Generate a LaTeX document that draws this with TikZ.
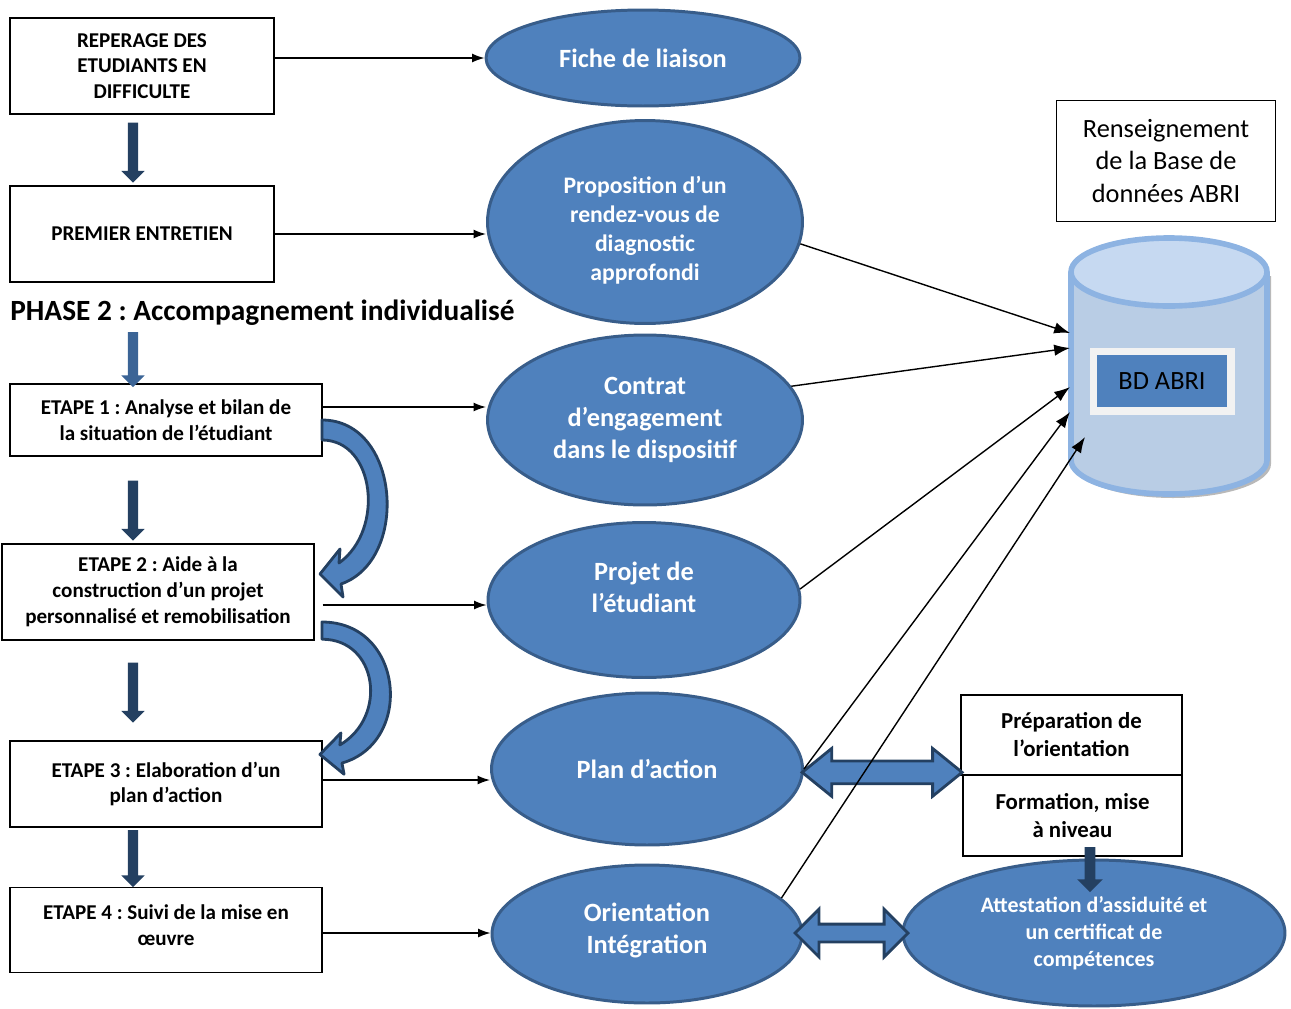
\documentclass[tikz,border=0pt]{standalone}
\usepackage{fontspec}
\setmainfont{Carlito}
\usepackage{tikz}
\usetikzlibrary{arrows.meta, positioning, calc, shapes.geometric, shapes.arrows, shadows}
\definecolor{MainBlue}{RGB}{79,129,189}
\definecolor{EdgeBlue}{RGB}{56,93,138}
\definecolor{DarkBlue}{RGB}{36,64,97}
\definecolor{MidBlue}{RGB}{59,100,150}
\definecolor{DbEdge}{RGB}{141,179,226}
\definecolor{DbBody}{RGB}{185,205,229}
\definecolor{DbTop}{RGB}{198,217,241}
\definecolor{FrameGrey}{RGB}{242,242,242}
\tikzset{
  >=latex,
  % boites rectangulaires
  box/.style={draw,line width=0.8pt,align=center,inner sep=2pt,font=\bfseries\fontsize{12}{14.7}\selectfont},
  % bulles bleues
  bubble/.style={ellipse,draw=EdgeBlue,line width=1.7pt,fill=MainBlue,text=white,align=center,inner sep=0pt,font=\bfseries\fontsize{15}{18.2}\selectfont},
  % fleches
  connect arrow/.style={-{Latex[length=7pt,width=5pt]},line width=0.8pt},
  db arrow/.style={-{Latex[length=9pt,width=6.5pt]},line width=0.8pt},
  down arrow/.style={single arrow,shape border rotate=270,fill=DarkBlue,inner sep=0.095cm,single arrow head extend=0.13cm,single arrow tip angle=90},
  both arrow/.style={double arrow,draw=DarkBlue,fill=MainBlue,line width=1.6pt},
  bend arrow/.style={draw=DarkBlue,fill=MainBlue,line width=1.6pt,line join=round}
}
\begin{document}
\frenchspacing
\begin{tikzpicture}[x=0.02cm,y=-0.02cm]
  \useasboundingbox (0,0) rectangle (1291,1008);
  % colonne de gauche
  \node[box,minimum width=5.28cm,minimum height=1.92cm] (reperage) at (142,66) {REPERAGE DES\\ETUDIANTS EN\\DIFFICULTE};
  \node[box,minimum width=5.28cm,minimum height=1.92cm] (entretien) at (142,234) {PREMIER ENTRETIEN};
  \node[anchor=west,inner sep=0pt,font=\bfseries\fontsize{16.7}{20}\selectfont] (phase) at (10,313) {PHASE 2 : Accompagnement individualisé};
  \node[box,minimum width=6.24cm,minimum height=1.44cm] (etape1) at (166,420) {ETAPE 1 : Analyse et bilan de\\la situation de l’étudiant};
  \node[box,minimum width=6.24cm,minimum height=1.92cm] (etape2) at (158,592) {ETAPE 2 : Aide à la\\construction d’un projet\\personnalisé et remobilisation};
  \node[box,minimum width=6.24cm,minimum height=1.72cm] (etape3) at (166,784) {ETAPE 3 : Elaboration d’un\\plan d’action};
  \node[box,minimum width=6.24cm,minimum height=1.7cm] (etape4) at (166,930) {ETAPE 4 : Suivi de la mise en\\œuvre\rule[-6pt]{0pt}{0pt}};
  \node[down arrow,minimum height=1.2cm] (a1) at (133,150) {};
  \node[down arrow,minimum height=1.1cm,fill=MidBlue] (a2) at (133,357) {};
  \node[down arrow,minimum height=1.2cm] (a3) at (133,508) {};
  \node[down arrow,minimum height=1.2cm] (a4) at (133,690) {};
  \node[down arrow,minimum height=1.14cm] (a5) at (133,856) {};
  % bulles
  \node[bubble,minimum width=6.28cm,minimum height=1.92cm] (fiche) at (643,58) {Fiche de liaison};
  \node[bubble,minimum width=6.3cm,minimum height=4.06cm,font=\bfseries\fontsize{13.5}{16.4}\selectfont] (prop) at (645,222) {\rule{0pt}{19pt}Proposition d’un\\rendez-vous de\\diagnostic\\approfondi};
  \node[bubble,minimum width=6.3cm,minimum height=3.4cm] (contrat) at (645,420) {Contrat\\d’engagement\\dans le dispositif};
  \node[bubble,minimum width=6.24cm,minimum height=3.1cm] (projet) at (644,600) {Projet de\\l’étudiant\rule[-15pt]{0pt}{0pt}};
  \node[bubble,minimum width=6.22cm,minimum height=3.04cm] (plan) at (647,769) {Plan d’action};
  \node[bubble,minimum width=6.2cm,minimum height=2.76cm] (orient) at (647,934) {Orientation\\Intégration\rule[-7pt]{0pt}{0pt}};
  \node[bubble,minimum width=7.64cm,minimum height=2.92cm,font=\bfseries\fontsize{12.5}{15.3}\selectfont] (attest) at (1094,933) {Attestation d’assiduité et\\un certificat de\\compétences};
  % base de donnees
  \node[draw,line width=0.8pt,minimum width=4.38cm,minimum height=2.42cm,align=center,font=\fontsize{15}{18.6}\selectfont] (rens) at (1166,161) {Renseignement\\de la Base de\\données ABRI};
  \fill[gray!55,shift={(4,4)}] (1071,272) -- (1071,460) arc[start angle=180,end angle=0,x radius=98,y radius=34] -- (1267,272) -- cycle;
  \fill[DbBody] (1071,272) -- (1071,460) arc[start angle=180,end angle=0,x radius=98,y radius=34] -- (1267,272) -- cycle;
  \draw[DbEdge,line width=3.2pt] (1071,272) -- (1071,460) arc[start angle=180,end angle=0,x radius=98,y radius=34] -- (1267,272);
  \filldraw[fill=DbTop,draw=DbEdge,line width=3.2pt] (1169,272) ellipse[x radius=98,y radius=34];
  \coordinate (dbleft) at (1068,366);
  \node[draw=FrameGrey,line width=4pt,fill=MainBlue,minimum width=2.76cm,minimum height=1.2cm,font=\fontsize{15}{18}\selectfont,drop shadow={shadow xshift=2pt,shadow yshift=-2pt,opacity=.6,fill=gray}] (bd) at (1162,381) {BD ABRI};
  \node[box,minimum width=4.42cm,minimum height=1.6cm,font=\bfseries\fontsize{13}{15.9}\selectfont] (prep) at (1071.5,735) {Préparation de\\l’orientation};
  \node[box,minimum width=4.38cm,minimum height=1.62cm,font=\bfseries\fontsize{13}{15.9}\selectfont] (form) at (1072.5,815.5) {Formation, mise\\à niveau};
  \node[down arrow,minimum height=0.9cm,inner sep=0.1cm,single arrow head extend=0.15cm] (a6) at (1090,867) {};
  % fleches horizontales
  \coordinate (e1out) at ($(etape1.east)+(0,-13)$);
  \coordinate (e2out) at ($(etape2.east)+(8,13)$);
  \coordinate (e3out) at ($(etape3.east)+(0,-4)$);
  \coordinate (e4out) at ($(etape4.east)+(0,3)$);
  \draw[connect arrow] (reperage.east |- fiche) -- (fiche.west);
  \draw[connect arrow] (entretien.east) -- (entretien.east -| prop.west);
  \draw[connect arrow] (e1out) -- (e1out -| contrat.west);
  \draw[connect arrow] (e2out) -- (e2out -| projet.west);
  \draw[connect arrow] (e3out) -- (e3out -| plan.west);
  \draw[connect arrow] (e4out) -- (e4out -| orient.west);
  % fleches courbes
  \begin{scope}[shift={(322,420)}]
    \draw[bend arrow] (0,0) .. controls (78,0) and (88,140) .. (19,164) -- (21,177) -- (-2,154) -- (18,129) -- (17,143) .. controls (63,110) and (53,20) .. (0,20) -- cycle;
  \end{scope}
  \begin{scope}[shift={(322,622)},xscale=1.05,yscale=0.86]
    \draw[bend arrow] (0,0) .. controls (78,0) and (88,140) .. (19,164) -- (21,177) -- (-2,154) -- (18,129) -- (17,143) .. controls (63,110) and (53,20) .. (0,20) -- cycle;
  \end{scope}
  % doubles fleches
  \node[both arrow,minimum height=3.2cm,inner sep=0.2cm,double arrow head extend=0.25cm,double arrow tip angle=78] (pa) at ($(plan.east)!0.5!(prep.south west)$) {};
  \node[both arrow,minimum height=2.26cm,inner sep=0.15cm,double arrow head extend=0.3cm,double arrow tip angle=90] (oa) at (851.5,933) {};
  % vers la base
  \draw[db arrow] (prop.-8) -- ($(dbleft)+(2,-33)$);
  \draw[db arrow] (contrat.13) -- ($(dbleft)+(2,-18)$);
  \draw[db arrow] (projet.4) -- ($(dbleft)+(2,21)$);
  \draw[db arrow] (plan.east) -- ($(dbleft)+(2,46)$);
  \draw[db arrow] (orient.15) -- ($(dbleft)+(17,71)$);
\end{tikzpicture}
\end{document}
